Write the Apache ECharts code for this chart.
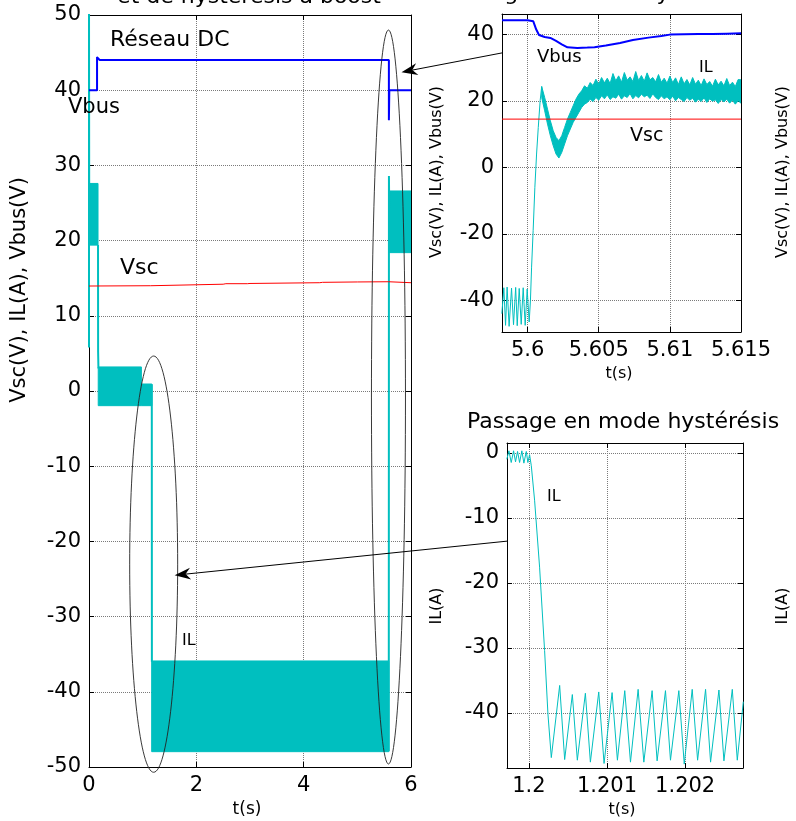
<!DOCTYPE html>
<html>
<head>
<meta charset="utf-8">
<script src="https://cdn.jsdelivr.net/npm/echarts@6/dist/echarts.min.js"></script>
<style>
html, body { margin: 0; padding: 0; background: #fff; }
#chart { width: 796px; height: 821px; }
</style>
</head>
<body>
<div id="chart"></div>
<script>
const CYAN = '#00BFBF', BLUE = '#0000FF', RED = '#FF0000';
const FONT = 'DejaVu Sans';

// ---- main plot, t = 0..6 s ----
const vbusT = [0, 0.15, 0.15, 0.2, 1.16, 5.588, 5.588, 5.596, 6];
const vbusV = [40, 40, 44.4, 44.0, 44.0, 44.0, 36.0, 40.0, 40.0];
const vscT = [0, 1.15, 1.17, 2.5, 2.55, 2.95, 3.0, 4.3, 4.35, 5.0, 5.58, 5.6, 6];
const vscV = [13.96, 14.0, 14.13, 14.2, 14.27, 14.27, 14.3, 14.4, 14.45, 14.5, 14.53, 14.4, 14.4];
// IL switching transitions (null = break)
const ilT = [0, 0, 0.004, null, 0.168, 0.17, 0.176, null, 1.17, 1.172, null, 5.586, 5.589, 5.594];
const ilV = [5.8, 52, 24, null, 19.4, 5.2, 3, null, 0.9, -36, null, -47.9, 28.6, 24];
// IL ripple envelope (null = new block)
const ilBandT  = [0, 0.168, null, 0.172, 0.976, 0.976, 1.172, null, 1.168, 5.586, null, 5.592, 6];
const ilBandLo = [19.4, 19.4, null, -1.95, -1.95, -1.95, -1.95, null, -47.96, -47.96, null, 18.4, 18.4];
const ilBandHi = [27.6, 27.6, null, 3.2, 3.2, 0.93, 0.93, null, -35.9, -35.9, null, 26.6, 26.6];

// ---- zoom around t = 5.6 s ----
const zVbusT = [5.5982, 5.6000, 5.6004, 5.6006, 5.6008, 5.6012, 5.6016, 5.6020, 5.6024, 5.6028, 5.6035, 5.6042, 5.6047, 5.6055, 5.6065, 5.6074, 5.6085, 5.6094, 5.6100, 5.6110, 5.6120, 5.6130, 5.6140, 5.6150];
const zVbusV = [44.2, 44.2, 43.9, 41.5, 39.8, 39.2, 38.9, 38.0, 37.0, 36.1, 35.9, 36.0, 36.1, 36.6, 37.4, 38.3, 39.0, 39.5, 39.9, 40.0, 40.1, 40.1, 40.2, 40.3];
const zVscT = [5.5982, 5.615];
const zVscV = [14.5, 14.5];
const zIlT = [5.59819, 5.59833, 5.59845, 5.59856, 5.59870, 5.59887, 5.59901, 5.59916, 5.59927, 5.59941, 5.59955, 5.59969, 5.59983, 5.59997, 5.60011, 5.60020, 5.60028, 5.60039, 5.60051, 5.60063, 5.60075, 5.60088, 5.60099];
const zIlV = [-44, -36.2, -47.5, -36.0, -47.8, -36.3, -47.3, -36.1, -47.6, -36.4, -47.2, -36.2, -47.5, -36.6, -46.5, -40, -30, -19, -6, 4, 12, 20, 24.3];
const zBandT = [5.60099,
  5.6012, 5.6014, 5.6016, 5.6018, 5.6020, 5.6022, 5.6024, 5.6026, 5.6028, 5.6030,
  5.6032, 5.6034, 5.6036, 5.6038, 5.6040, 5.6042, 5.6044, 5.6046, 5.6048, 5.6050,
  5.6052, 5.6054, 5.6056, 5.6058, 5.6060, 5.6062, 5.6064, 5.6066, 5.6068, 5.6070,
  5.6072, 5.6074, 5.6076, 5.6078, 5.6080, 5.6082, 5.6084, 5.6086, 5.6088, 5.6090,
  5.6092, 5.6094, 5.6096, 5.6098, 5.6100, 5.6102, 5.6104, 5.6106, 5.6108, 5.6110,
  5.6112, 5.6114, 5.6116, 5.6118, 5.6120, 5.6122, 5.6124, 5.6126, 5.6128, 5.6130,
  5.6132, 5.6134, 5.6136, 5.6138, 5.6140, 5.6142, 5.6144, 5.6146, 5.6148, 5.6150];
const zBandLo = [21, 17, 13, 9.5, 6.5, 4, 2.8, 4.5, 7, 9.5,
  11.5, 13.5, 15, 16.5, 18, 19, 19.5, 20.5, 19.8, 21,
  20.2, 21.5, 20.6, 21.8, 20.4, 21.2, 20.8, 22, 20.5, 21.5,
  21, 22.2, 20.6, 21.6, 20.9, 22.0, 21.2, 21.7, 20.7, 22.1,
  21.0, 20.4, 21.5, 20.6, 21.2, 20.3, 21.4, 20.0, 21.0, 20.4,
  19.8, 21.0, 20.2, 20.8, 19.6, 20.5, 19.8, 20.9, 19.5, 20.6,
  19.9, 20.3, 19.2, 20.4, 19.7, 20.5, 19.3, 20.2, 19.0, 20.0, 19.3];
const zBandHi = [24.3, 21, 17.5, 14, 11, 9, 8, 9.5, 12, 14.5,
  16.5, 18.5, 20.5, 22, 23, 24.5, 23.8, 25.5, 24.6, 26.5,
  25.0, 27.0, 25.4, 26.8, 25.2, 28.2, 26.0, 27.5, 25.6, 28.5,
  26.2, 27.2, 25.8, 28.8, 26.1, 27.6, 25.9, 28.4, 26.3, 27.0,
  25.7, 27.9, 25.6, 26.8, 25.3, 27.4, 25.5, 26.9, 24.9, 27.2,
  25.1, 26.4, 24.8, 27.0, 25.0, 26.2, 24.6, 26.6, 24.9, 25.8,
  24.4, 26.5, 24.8, 25.9, 24.5, 26.7, 24.6, 25.6, 24.3, 26.4, 26.3];

// ---- zoom around t = 1.2 s (passage en mode hystérésis) ----
const hIlT = [1.199718, 1.199744, 1.199774, 1.199804, 1.199829, 1.199855, 1.199881, 1.199910, 1.199936, 1.199967, 1.199987, 1.200009,
  1.200031, 1.200073, 1.200137, 1.200201, 1.200244, 1.200287,
  1.200394, 1.200458, 1.200556, 1.200620, 1.200723, 1.200787, 1.200894, 1.200962, 1.201065, 1.201133, 1.201227, 1.201300,
  1.201398, 1.201471, 1.201577, 1.201641, 1.201748, 1.201812, 1.201919, 1.201988, 1.202090, 1.202159, 1.202261, 1.202325,
  1.202432, 1.202496, 1.202603, 1.202667, 1.202744];
const hIlV = [-1.0, 0.3, -1.5, 0.3, -1.4, 0.2, -1.5, 0.3, -1.6, 0.2, -1.5, -0.3,
  -2.0, -7.3, -17.6, -30.4, -40.2, -46.9,
  -35.8, -47.2, -37.2, -47.3, -37.0, -47.6, -36.8, -47.8, -36.9, -47.3, -36.6, -47.6,
  -36.4, -47.6, -36.6, -47.4, -36.6, -47.3, -36.6, -47.9, -36.4, -47.3, -36.4, -47.6,
  -36.5, -47.4, -36.4, -47.3, -38.3];

// annotations (data coordinates)
const ellipse1 = { t: [0.758, 1.652], v: [4.65, -50.7] };
const ellipse2 = { t: [5.263, 5.897], v: [48.0, -49.6] };

function pairs(t, v) {
  return t.map((x, i) => (x == null ? ['-', '-'] : [x, v[i]]));
}

function lineSeries(name, t, v, color, width, idx) {
  return {
    type: 'line', name: name, xAxisIndex: idx, yAxisIndex: idx,
    data: pairs(t, v), symbol: 'none', showSymbol: false, clip: true,
    connectNulls: false,
    lineStyle: { color: color, width: width }, itemStyle: { color: color }
  };
}

function bandSeries(name, t, lo, hi, idx) {
  return {
    type: 'custom', name: name, xAxisIndex: idx, yAxisIndex: idx, clip: true,
    data: t.map((x, i) => [x, lo[i], hi[i]]).filter(d => d[0] != null),
    encode: { x: 0, y: [1, 2] },
    renderItem: function (params, api) {
      if (params.dataIndex !== 0) return null;
      const children = [];
      let top = [], bot = [];
      const flush = function () {
        if (top.length) {
          children.push({
            type: 'polygon',
            shape: { points: top.concat(bot.reverse()) },
            style: { fill: CYAN, stroke: CYAN, lineWidth: 1 }
          });
        }
        top = []; bot = [];
      };
      for (let i = 0; i < t.length; i++) {
        if (t[i] == null) { flush(); continue; }
        top.push(api.coord([t[i], hi[i]]));
        bot.push(api.coord([t[i], lo[i]]));
      }
      flush();
      return { type: 'group', children: children };
    }
  };
}

const fmt = v => String(parseFloat(v.toFixed(4)));

function axis(gridIndex, min, max, pos, extra) {
  const main = pos === 'bottom' || pos === 'left';
  const a = {
    type: 'value', gridIndex: gridIndex, min: min, max: max, position: pos,
    axisLine: { show: true, onZero: false, lineStyle: { color: '#000', width: 1 } },
    axisTick: { show: true, inside: true, length: 5, lineStyle: { color: '#000' } },
    axisLabel: { show: main, color: '#000', fontFamily: FONT, fontSize: 21, margin: 8, formatter: fmt },
    splitLine: { show: main, lineStyle: { color: '#7a7a7a', type: 'dotted', width: 1 } }
  };
  if (extra) {
    if (extra.interval) a.interval = extra.interval;
    if (extra.ticks) {
      a.axisTick.customValues = extra.ticks;
      a.axisLabel.customValues = extra.ticks;
    }
  }
  return a;
}

const trX = [5.6, 5.605, 5.61, 5.615];
const trY = [-40, -20, 0, 20, 40];
const brX = [1.2, 1.201, 1.202];
const brY = [-40, -30, -20, -10, 0];

const option = {
  animation: false,
  backgroundColor: '#fff',
  grid: [
    { left: 89, top: 15, width: 322, height: 752, containLabel: false, outerBoundsMode: 'none' },
    { left: 502, top: 14, width: 239, height: 318, containLabel: false, outerBoundsMode: 'none' },
    { left: 507, top: 443, width: 236, height: 325, containLabel: false, outerBoundsMode: 'none' }
  ],
  xAxis: [
    axis(0, 0, 6, 'bottom', { interval: 2 }),
    axis(0, 0, 6, 'top', { interval: 2 }),
    axis(1, 5.5982, 5.615, 'bottom', { ticks: trX }),
    axis(1, 5.5982, 5.615, 'top', { ticks: trX }),
    axis(2, 1.19972, 1.20274, 'bottom', { ticks: brX }),
    axis(2, 1.19972, 1.20274, 'top', { ticks: brX })
  ],
  yAxis: [
    axis(0, -50, 50, 'left', { interval: 10 }),
    axis(0, -50, 50, 'right', { interval: 10 }),
    axis(1, -49.5, 46.1, 'left', { ticks: trY }),
    axis(1, -49.5, 46.1, 'right', { ticks: trY }),
    axis(2, -48.5, 1.5, 'left', { ticks: brY }),
    axis(2, -48.5, 1.5, 'right', { ticks: brY })
  ],
  series: [
    bandSeries('IL', ilBandT, ilBandLo, ilBandHi, 0),
    lineSeries('IL', ilT, ilV, CYAN, 2, 0),
    lineSeries('Vbus', vbusT, vbusV, BLUE, 2, 0),
    lineSeries('Vsc', vscT, vscV, RED, 1, 0),
    bandSeries('IL', zBandT, zBandLo, zBandHi, 2),
    lineSeries('IL', zIlT, zIlV, CYAN, 1, 2),
    lineSeries('Vbus', zVbusT, zVbusV, BLUE, 2, 2),
    lineSeries('Vsc', zVscT, zVscV, RED, 1, 2),
    lineSeries('IL', hIlT, hIlV, CYAN, 1, 4)
  ]
};

const chart = echarts.init(document.getElementById('chart'), null, { renderer: 'canvas' });
chart.setOption(option);

function px(idx, pt) {
  return chart.convertToPixel({ xAxisIndex: idx, yAxisIndex: idx }, pt);
}
function txt(s, x, y, size, align, rot) {
  return {
    type: 'text', x: x, y: y, rotation: rot || 0, z: 100,
    style: {
      text: s, fill: '#000', fontFamily: FONT, fontSize: size,
      align: align || 'left', textAlign: align || 'left',
      verticalAlign: 'middle', textVerticalAlign: 'middle'
    }
  };
}
function ellipse(e) {
  const a = px(0, [e.t[0], e.v[0]]), b = px(0, [e.t[1], e.v[1]]);
  return {
    type: 'ellipse', z: 100, silent: true,
    shape: { cx: (a[0] + b[0]) / 2, cy: (a[1] + b[1]) / 2, rx: Math.abs(b[0] - a[0]) / 2, ry: Math.abs(b[1] - a[1]) / 2 },
    style: { fill: 'none', stroke: '#222', lineWidth: 0.9 }
  };
}
function arrow(from, to) {
  const dx = to[0] - from[0], dy = to[1] - from[1];
  const L = Math.hypot(dx, dy), ux = dx / L, uy = dy / L, nx = -uy, ny = ux;
  const len = 16, half = 6, notch = 11;
  const bx = to[0] - ux * len, by = to[1] - uy * len;
  const mx = to[0] - ux * notch, my = to[1] - uy * notch;
  return [
    { type: 'line', z: 100, shape: { x1: from[0], y1: from[1], x2: mx, y2: my }, style: { stroke: '#000', lineWidth: 1 } },
    { type: 'polygon', z: 100, shape: { points: [to, [bx + nx * half, by + ny * half], [mx, my], [bx - nx * half, by - ny * half]] }, style: { fill: '#000' } }
  ];
}

const R = Math.PI / 2;
const graphics = [
  txt('et de hystérésis à boost', 249, -3, 22, 'center'),
  txt('Passage en mode hystérésis', 442, -6, 22, 'left'),
  txt('Passage en mode hystérésis', 623, 422, 22, 'center'),
  txt('Réseau DC', 110, 40, 22, 'left'),
  txt('Vbus', 68, 108, 21, 'left'),
  txt('Vsc', 120, 268, 22, 'left'),
  txt('IL', 182, 641, 16, 'left'),
  txt('Vbus', 537, 57, 18, 'left'),
  txt('IL', 699, 68, 16, 'left'),
  txt('Vsc', 630, 136, 19, 'left'),
  txt('IL', 547, 497, 16, 'left'),
  txt('t(s)', 247, 810, 17, 'center'),
  txt('t(s)', 619, 374, 16, 'center'),
  txt('t(s)', 622, 810, 16, 'center'),
  txt('Vsc(V), IL(A), Vbus(V)', 20, 290, 21, 'center', R),
  txt('Vsc(V), IL(A), Vbus(V)', 437, 172, 16, 'center', R),
  txt('IL(A)', 437, 606, 16, 'center', R),
  txt('Vsc(V), IL(A), Vbus(V)', 783, 172, 16, 'center', R),
  txt('IL(A)', 783, 606, 16, 'center', R),
  ellipse(ellipse1),
  ellipse(ellipse2)
].concat(
  arrow(px(2, [5.5982, 34.4]), px(0, [5.823, 42.4])),
  arrow(px(4, [1.19972, -13.6]), px(0, [1.596, -24.5]))
);

chart.setOption({ graphic: graphics });
</script>
</body>
</html>
